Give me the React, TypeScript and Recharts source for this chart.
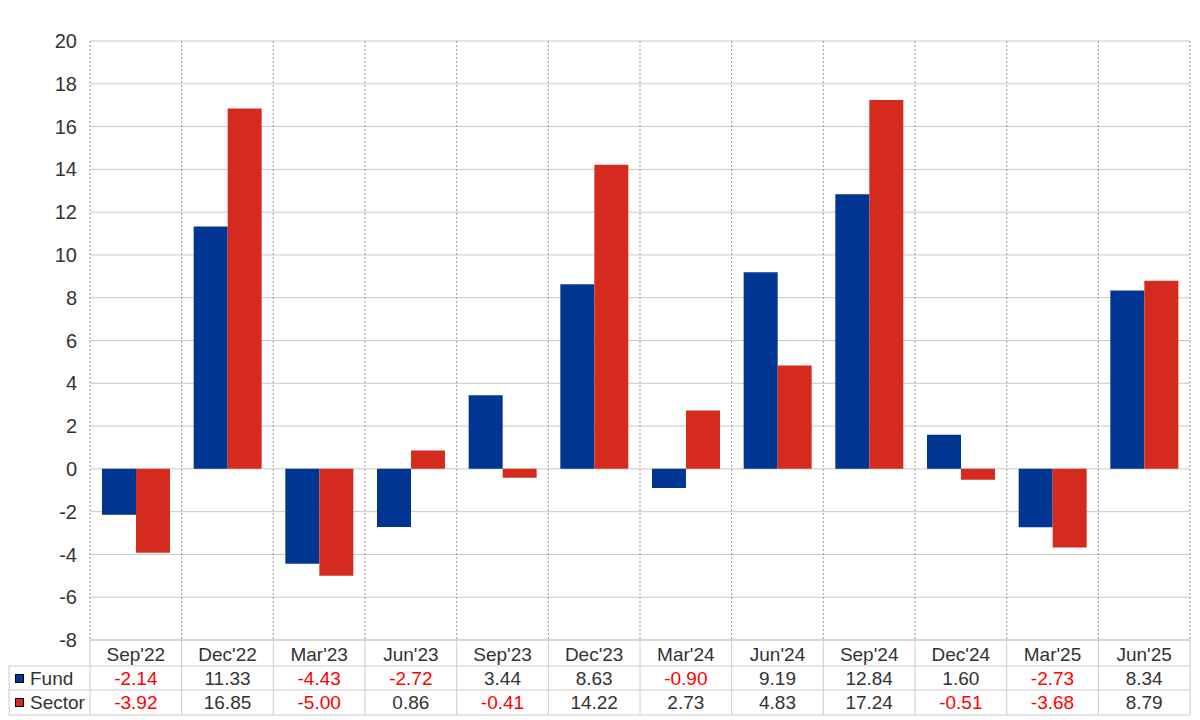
import React from 'react';
import { BarChart, Bar, XAxis, YAxis, CartesianGrid } from 'recharts';

const categories = ["Sep'22", "Dec'22", "Mar'23", "Jun'23", "Sep'23", "Dec'23", "Mar'24", "Jun'24", "Sep'24", "Dec'24", "Mar'25", "Jun'25"];
const fundValues = [-2.14, 11.33, -4.43, -2.72, 3.44, 8.63, -0.9, 9.19, 12.84, 1.6, -2.73, 8.34];
const sectorValues = [-3.92, 16.85, -5.0, 0.86, -0.41, 14.22, 2.73, 4.83, 17.24, -0.51, -3.68, 8.79];
const yTicks = [-8, -6, -4, -2, 0, 2, 4, 6, 8, 10, 12, 14, 16, 18, 20];

const FUND_COLOR = '#003591';
const SECTOR_COLOR = '#d52b1e';
const FONT = '"Liberation Sans", Arial, sans-serif';

const LEFT = 90;
const RIGHT = 1190;
const TOP = 41;
const BOTTOM = 640;
const CELL = (RIGHT - LEFT) / categories.length;
const ROW1 = 666;
const ROW2 = 690;
const ROW3 = 715;
const TABLE_LEFT = 9;
const TABLE_FONT = 19;

const data = categories.map((c, i) => ({ name: c, fund: fundValues[i], sector: sectorValues[i] }));

const fmt = (v: number) => v.toFixed(2);
const valColor = (v: number) => (v < 0 ? '#ff0000' : '#333333');

const TableTick = (props: any) => {
  const { x, payload } = props;
  const i = payload.index;
  const left = x - CELL / 2;
  const right = x + CELL / 2;
  const lineColor = '#cccccc';
  return (
    <g style={{ fontFamily: FONT, fontSize: TABLE_FONT }}>
      <line x1={left} y1={BOTTOM} x2={right} y2={BOTTOM} stroke={lineColor} />
      <line x1={right} y1={BOTTOM} x2={right} y2={ROW3} stroke={lineColor} />
      {i === 0 && <line x1={left} y1={BOTTOM} x2={left} y2={ROW3} stroke={lineColor} />}
      <text x={x} y={661} textAnchor="middle" fill="#333333">{payload.value}</text>
      <text x={x} y={685} textAnchor="middle" fill={valColor(fundValues[i])}>{fmt(fundValues[i])}</text>
      <text x={x} y={709} textAnchor="middle" fill={valColor(sectorValues[i])}>{fmt(sectorValues[i])}</text>
    </g>
  );
};

const TableFrame = () => {
  const lineColor = '#cccccc';
  return (
    <svg width={1200} height={720} style={{ position: 'absolute', left: 0, top: 0, pointerEvents: 'none' }}>
      <g style={{ fontFamily: FONT, fontSize: TABLE_FONT }}>
        <line x1={TABLE_LEFT} y1={ROW1} x2={RIGHT} y2={ROW1} stroke={lineColor} />
        <line x1={TABLE_LEFT} y1={ROW2} x2={RIGHT} y2={ROW2} stroke={lineColor} />
        <line x1={TABLE_LEFT} y1={ROW3} x2={RIGHT} y2={ROW3} stroke={lineColor} />
        <line x1={TABLE_LEFT} y1={ROW1} x2={TABLE_LEFT} y2={ROW3} stroke={lineColor} />
        <rect x={15.5} y={674.5} width={8} height={8} fill={FUND_COLOR} stroke="#000" />
        <text x={30} y={685} fill="#333333">Fund</text>
        <rect x={15.5} y={698.5} width={8} height={8} fill={SECTOR_COLOR} stroke="#000" />
        <text x={30} y={709} fill="#333333">Sector</text>
      </g>
    </svg>
  );
};

export default function App() {
  return (
    <div style={{ position: 'absolute', left: 0, top: 0, width: 1200, height: 720, background: '#fff' }}>
      <BarChart
        width={1200}
        height={720}
        data={data}
        margin={{ top: TOP, right: 1200 - RIGHT, left: 0, bottom: 0 }}
        barCategoryGap={12}
        barGap={0}
      >
        <CartesianGrid horizontal vertical={false} stroke="#c8c8c8" />
        <CartesianGrid
          horizontal={false}
          vertical
          stroke="#999999"
          strokeDasharray="2 2"
          verticalCoordinatesGenerator={() => categories.map((_, i) => LEFT + i * CELL).concat([RIGHT])}
        />
        <YAxis
          width={LEFT}
          domain={[-8, 20]}
          ticks={yTicks}
          interval={0}
          axisLine={false}
          tickLine={false}
          tickMargin={7}
          tick={{ fill: '#333333', fontSize: 20, fontFamily: FONT }}
        />
        <XAxis
          dataKey="name"
          height={720 - BOTTOM}
          interval={0}
          axisLine={false}
          tickLine={false}
          tick={<TableTick />}
        />
        <Bar dataKey="fund" fill={FUND_COLOR} isAnimationActive={false} />
        <Bar dataKey="sector" fill={SECTOR_COLOR} isAnimationActive={false} />
      </BarChart>
      <TableFrame />
    </div>
  );
}
